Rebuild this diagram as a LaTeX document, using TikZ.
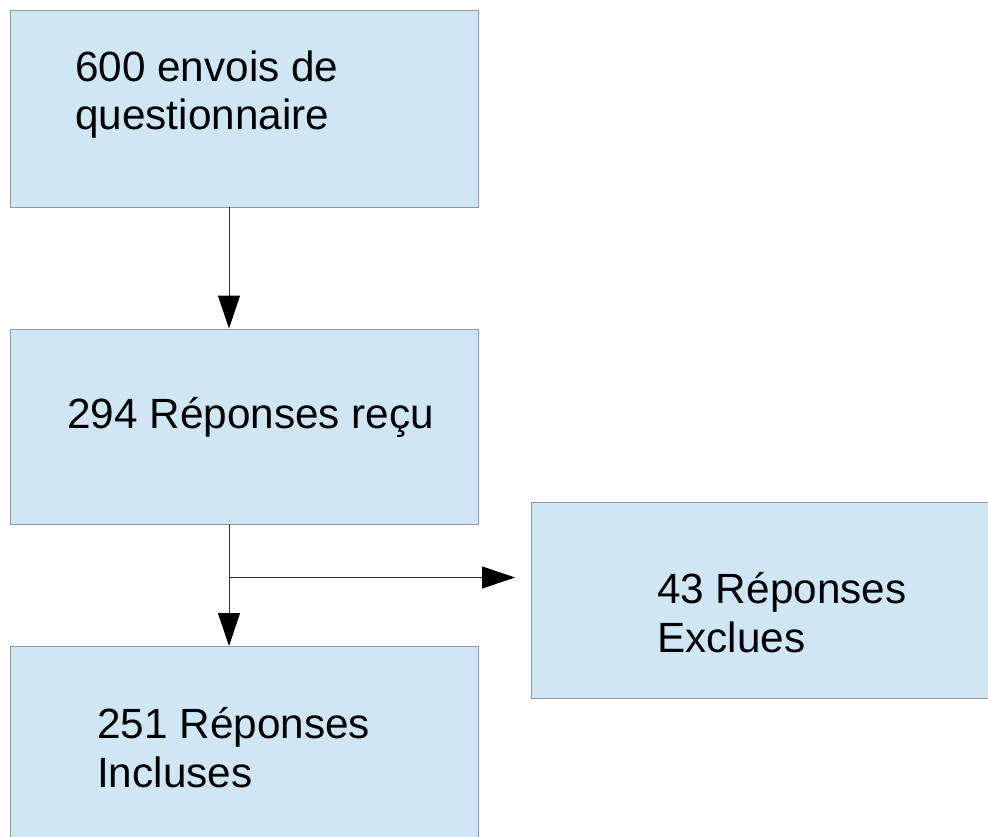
\documentclass[tikz,border=0pt]{standalone}
\usepackage{fontspec}
\setmainfont{Liberation Sans}
\usetikzlibrary{arrows.meta}
\definecolor{boxfill}{HTML}{CFE7F5}
\definecolor{boxline}{HTML}{979797}
\definecolor{arrline}{HTML}{333333}
\tikzset{
  flowbox/.style={draw=boxline, line width=1.3pt, fill=boxfill, rectangle, inner sep=0pt},
  boxtext/.style={anchor=base west, align=left, inner sep=0pt, font=\fontsize{42.3}{48.5}\selectfont},
  flowarrow/.style={draw=arrline, line width=1pt, -{Triangle[width=22pt,length=33pt,color=black]}}
}
\begin{document}
\begin{tikzpicture}[x=1pt,y=-1pt]
\useasboundingbox (0,0) rectangle (988,837);
\begin{scope}
\clip (0,0) rectangle (988,837);
\node[flowbox, minimum width=468.5pt, minimum height=197pt, anchor=north west] (b1) at (9.5,10) {};
\node[flowbox, minimum width=468.5pt, minimum height=195.5pt, anchor=north west] (b2) at (9.5,328.5) {};
\node[flowbox, minimum width=468.5pt, minimum height=200pt, anchor=north west] (b3) at (9.5,646) {};
\node[flowbox, minimum width=470pt, minimum height=196pt, anchor=north west] (b4) at (530.5,502) {};
\end{scope}
\node[boxtext] (t1) at (75,130) {600 envois de\\questionnaire};
\node[boxtext] (t2) at (67,428) {294 Réponses reçu};
\node[boxtext] (t4) at (657,652) {43 Réponses\\Exclues};
\node[boxtext] (t3) at (97,787) {251 Réponses\\Incluses};
\coordinate (c1a) at (229,207);
\coordinate (c1b) at (229,328.5);
\coordinate (c2a) at (229,524);
\coordinate (c2b) at (229,646);
\coordinate (br) at (229,577.5);
\coordinate (brend) at (515,577.5);
\draw[flowarrow] (c1a) -- (c1b);
\draw[flowarrow] (c2a) -- (c2b);
\draw[flowarrow] (br) -- (brend);
\end{tikzpicture}
\end{document}
